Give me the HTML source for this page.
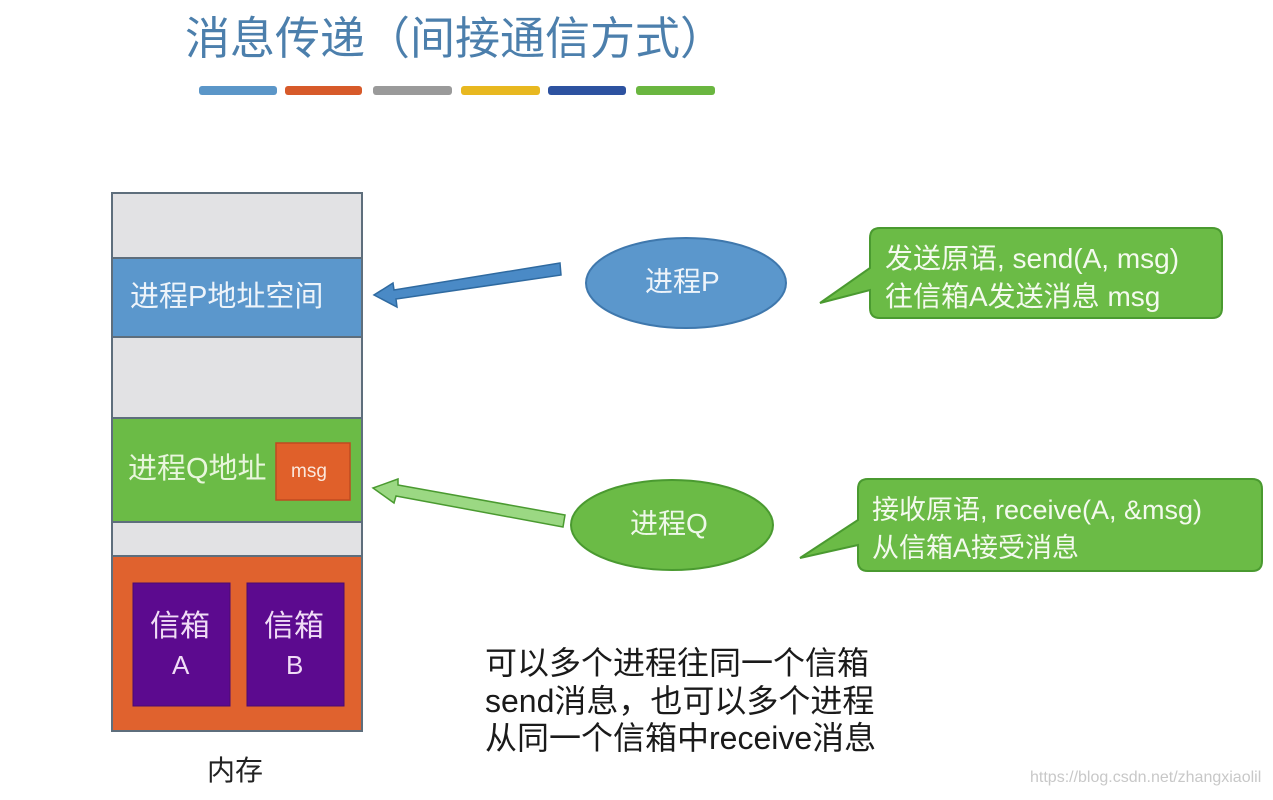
<!DOCTYPE html>
<html><head><meta charset="utf-8"><style>
body{margin:0;width:1273px;height:800px;background:#fff;overflow:hidden;position:relative;font-family:"Liberation Sans","Noto Sans CJK SC",sans-serif}
.t{position:absolute;white-space:nowrap;line-height:1}
</style></head><body>
<svg width="1273" height="800" style="position:absolute;left:0;top:0">
<g stroke-linecap="round">
<rect x="199" y="86" width="78" height="9" rx="3" fill="#5b96c8"/>
<rect x="285" y="86" width="77" height="9" rx="3" fill="#d75a2a"/>
<rect x="373" y="86" width="79" height="9" rx="3" fill="#9a9a9a"/>
<rect x="461" y="86" width="79" height="9" rx="3" fill="#e8b820"/>
<rect x="548" y="86" width="78" height="9" rx="3" fill="#2d52a0"/>
<rect x="636" y="86" width="79" height="9" rx="3" fill="#6ab640"/>
</g>
<g stroke="#5e6e7c" stroke-width="2">
<rect x="112" y="193" width="250" height="65" fill="#e2e2e4"/>
<rect x="112" y="258" width="250" height="79" fill="#5b97cc"/>
<rect x="112" y="337" width="250" height="81" fill="#e2e2e4"/>
<rect x="112" y="418" width="250" height="104" fill="#6bbb46"/>
<rect x="112" y="522" width="250" height="34" fill="#e2e2e4"/>
<rect x="112" y="556" width="250" height="175" fill="#e0622e"/>
</g>
<rect x="276" y="443" width="74" height="57" fill="#e0602a" stroke="#c04a20" stroke-width="1.5"/>
<rect x="133" y="583" width="97" height="123" fill="#5c0a8f" stroke="#4a0a70"/>
<rect x="247" y="583" width="97" height="123" fill="#5c0a8f" stroke="#4a0a70"/>
<polygon points="560,263 561,275 396,299 397,307 374,295 393,283 394,290" fill="#4a8ac6" stroke="#2f6aa0" stroke-width="1.5"/>
<polygon points="565,515 563,527 396,496 394,503 373,488 398,479 398,485" fill="#9bd883" stroke="#4a9a30" stroke-width="1.5"/>
<ellipse cx="686" cy="283" rx="100" ry="45" fill="#5b97cc" stroke="#3f78ad" stroke-width="2"/>
<ellipse cx="672" cy="525" rx="101" ry="45" fill="#6bbb46" stroke="#4a9a30" stroke-width="2"/>
<path d="M880,228 H1212 Q1222,228 1222,238 V308 Q1222,318 1212,318 H880 Q870,318 870,308 V290 L820,303 L870,268 V238 Q870,228 880,228Z" fill="#6bbb46" stroke="#4a9a30" stroke-width="2"/>
<path d="M868,479 H1252 Q1262,479 1262,489 V561 Q1262,571 1252,571 H868 Q858,571 858,561 V545 L800,558 L858,520 V489 Q858,479 868,479Z" fill="#6bbb46" stroke="#4a9a30" stroke-width="2"/>
</svg>
<div class="t" style="left:185px;top:16px;font-size:45px;color:#4c7fac">消息传递（间接通信方式）</div>
<div class="t" style="left:130px;top:283px;font-size:29px;color:#eef4fa">进程P地址空间</div>
<div class="t" style="left:128px;top:455px;font-size:29px;color:#e8f6dc">进程Q地址</div>
<div class="t" style="left:291px;top:462px;font-size:19px;color:#fbe8dc">msg</div>
<div class="t" style="left:150px;top:612px;font-size:30px;color:#f0dcf6">信箱</div>
<div class="t" style="left:172px;top:652px;font-size:26px;color:#f0dcf6">A</div>
<div class="t" style="left:264px;top:612px;font-size:30px;color:#f0dcf6">信箱</div>
<div class="t" style="left:286px;top:652px;font-size:26px;color:#f0dcf6">B</div>
<div class="t" style="left:207px;top:757px;font-size:28px;color:#222">内存</div>
<div class="t" style="left:645px;top:268px;font-size:28px;color:#eef4fa">进程P</div>
<div class="t" style="left:630px;top:510px;font-size:28px;color:#eef8e8">进程Q</div>
<div class="t" style="left:885px;top:240px;font-size:28px;color:#f4faee;line-height:38px">发送原语, send(A, msg)<br>往信箱A发送消息 msg</div>
<div class="t" style="left:872px;top:491px;font-size:27px;color:#f4faee;line-height:38px">接收原语, receive(A, &amp;msg)<br>从信箱A接受消息</div>
<div class="t" style="left:485px;top:645px;font-size:32px;color:#1a1a1a;line-height:37.5px">可以多个进程往同一个信箱<br>send消息，也可以多个进程<br>从同一个信箱中receive消息</div>
<div class="t" style="left:1030px;top:770px;font-size:16px;color:#c8c8c8">https://blog.csdn.net/zhangxiaolil</div>
</body></html>
